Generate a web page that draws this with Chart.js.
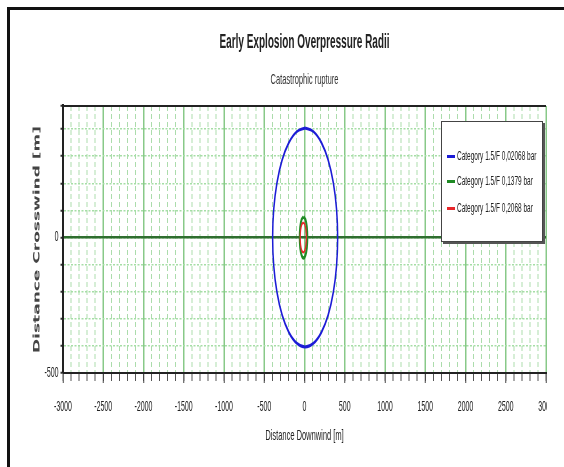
<!DOCTYPE html>
<html>
<head>
<meta charset="utf-8">
<script src="https://cdn.jsdelivr.net/npm/chart.js@4"></script>
<style>
  body { margin: 0; background: #fff; overflow: hidden; }
  #wrap {
    position: absolute; left: 0; top: 0;
    width: 1128px; height: 467px;
    transform: scaleX(0.5); transform-origin: 0 0;
  }
  #frame {
    position: absolute; left: 14px; top: 7px;
    width: 1114px; height: 460px;
    border-left: 6px solid #111; border-top: 3px solid #111;
  }
  #chart { position: absolute; left: 0; top: 0; }
  #legend {
    position: absolute; left: 882px; top: 121px;
    width: 204px; height: 121px; box-sizing: border-box;
    background: #fff;
    border-top: 1px solid #444; border-bottom: 1px solid #444;
    border-left: 2px solid #444; border-right: 2px solid #444;
    box-shadow: 4px 2px 0 #555;
    font-family: 'Liberation Sans', sans-serif;
    font-size: 13px; color: #222;
  }
  .item { position: absolute; left: 10px; height: 18px; line-height: 18px; white-space: nowrap; }
  .swatch { display: inline-block; width: 16px; height: 3px; vertical-align: middle; margin-right: 4px; }
  #cut { position: absolute; left: 1094px; top: 385px; width: 34px; height: 50px; background: #fff; }
</style>
</head>
<body>
<div id="wrap">
  <div id="frame"></div>
  <canvas id="chart" width="1128" height="467"></canvas>
  <div id="legend"></div>
  <div id="cut"></div>
</div>
<script>
'use strict';

const seriesNames = [
  'Category 1.5/F 0,02068 bar',
  'Category 1.5/F 0,1379 bar',
  'Category 1.5/F 0,2068 bar',
];
const seriesColors = ['#1c1cd6', '#1f8a24', '#e8262a'];

// contour outlines, starting at the top, going clockwise
const blueDownwind = [8, 113, 210, 294, 358, 398, 412, 398, 358, 294, 210, 113, 8,
  -97, -194, -278, -342, -382, -396, -382, -342, -278, -194, -97, 8];
const blueCrosswind = [404, 390, 350, 286, 202, 105, 0, -105, -202, -286, -350, -390, -404,
  -390, -350, -286, -202, -105, 0, 105, 202, 286, 350, 390, 404];

const greenDownwind = [-12, 12, 30, 36, 30, 12, -12, -36, -54, -60, -54, -36, -12];
const greenCrosswind = [76, 66, 38, 0, -38, -66, -76, -66, -38, 0, 38, 66, 76];

const redDownwind = [-15, 4, 18, 23, 18, 4, -15, -34, -48, -53, -48, -34, -15];
const redCrosswind = [55, 48, 28, 0, -28, -48, -55, -48, -28, 0, 28, 48, 55];

// axis ranges and labelled ticks
const xMin = -3000;
const xMax = 3000;
const yMin = -500;
const yMax = 485;
const yLabelled = [0, -500];

const tickFont = { family: "'Liberation Sans', sans-serif", size: 14 };

function toPoints(xs, ys) {
  let pts = [];
  for (let i = 0; i < xs.length; i++) {
    pts.push({ x: xs[i], y: ys[i] });
  }
  return pts;
}

function makeDataset(i, xs, ys, width) {
  return {
    label: seriesNames[i],
    data: toPoints(xs, ys),
    showLine: true,
    borderColor: seriesColors[i],
    borderWidth: width,
    pointRadius: 0,
    tension: 0.4,
    fill: false,
    order: 3 - i,
  };
}

// top edge of the plot box
const topEdge = {
  id: 'topEdge',
  afterDraw(chart) {
    const { ctx, chartArea } = chart;
    ctx.save();
    ctx.strokeStyle = '#222';
    ctx.lineWidth = 2;
    ctx.beginPath();
    ctx.moveTo(chartArea.left, chartArea.top);
    ctx.lineTo(chartArea.right, chartArea.top);
    ctx.stroke();
    ctx.restore();
  }
};

function renderChart() {
  let ctx = document.getElementById('chart').getContext('2d');
  return new Chart(ctx, {
    type: 'scatter',
    data: {
      datasets: [
        makeDataset(0, blueDownwind, blueCrosswind, 3),
        makeDataset(1, greenDownwind, greenCrosswind, 3.6),
        makeDataset(2, redDownwind, redCrosswind, 2.4),
      ],
    },
    plugins: [topEdge],
    options: {
      responsive: false,
      animation: false,
      layout: { padding: { left: 0, right: 36, top: 0, bottom: 0 } },
      plugins: {
        legend: { display: false },
        tooltip: { enabled: false },
        title: {
          display: true,
          fullSize: false,
          text: 'Early Explosion Overpressure Radii',
          color: '#222',
          font: { family: "'Liberation Sans', sans-serif", size: 20, weight: 'bold' },
          padding: { top: 30, bottom: 0 },
        },
        subtitle: {
          display: true,
          fullSize: false,
          text: 'Catastrophic rupture',
          color: '#333',
          font: { family: "'Liberation Sans', sans-serif", size: 15 },
          padding: { top: 17, bottom: 17 },
        },
      },
      scales: {
        // minor downwind grid every 100 m
        x: {
          type: 'linear',
          position: 'bottom',
          weight: 0,
          min: xMin,
          max: xMax,
          ticks: { display: false, stepSize: 100 },
          grid: {
            color: (c) => (c.tick && c.tick.value % 500 === 0) ? 'rgba(0,0,0,0)' : '#acdcac',
            lineWidth: 2,
            tickColor: '#555',
            tickLength: 8,
            tickWidth: 2,
          },
          border: { display: false, dash: [5, 3] },
          afterFit(scale) { scale.height = 0; },
        },
        // major downwind grid every 500 m, with labels
        x2: {
          type: 'linear',
          position: 'bottom',
          weight: 1,
          min: xMin,
          max: xMax,
          ticks: {
            stepSize: 500,
            font: tickFont,
            color: '#222',
            padding: 16,
            maxRotation: 0,
            callback: (v) => String(v),
          },
          grid: {
            color: '#88c988',
            lineWidth: 3,
            tickColor: '#444',
            tickLength: 10,
            tickWidth: 2,
          },
          border: { display: true, color: '#222', width: 2 },
          title: {
            display: true,
            text: 'Distance Downwind [m]',
            color: '#222',
            font: { family: "'Liberation Sans', sans-serif", size: 15 },
            padding: { top: 22, bottom: 22 },
          },
          afterFit(scale) { scale.height = 94; },
        },
        y: {
          type: 'linear',
          position: 'left',
          weight: 0,
          min: yMin,
          max: yMax,
          ticks: {
            stepSize: 100,
            font: tickFont,
            color: '#222',
            padding: 4,
            callback: (v) => yLabelled.includes(v) ? String(v) : '',
          },
          grid: {
            color: '#a6dea6',
            lineWidth: 1.5,
            tickColor: '#333',
            tickLength: 5,
            tickWidth: 2,
          },
          border: { display: true, color: '#222', width: 4, dash: [4, 3] },
          title: {
            display: true,
            text: 'Distance Crosswind [m]',
            color: '#444',
            font: { family: "'DejaVu Sans', sans-serif", size: 17, weight: 'bold' },
            padding: 64,
          },
          afterFit(scale) { scale.width = 126; },
        },
        // dark line along zero crosswind
        y0: {
          type: 'linear',
          position: 'left',
          weight: 1,
          min: yMin,
          max: yMax,
          afterBuildTicks(scale) { scale.ticks = [{ value: 0 }]; },
          ticks: { display: false },
          grid: { color: '#2f6e2f', lineWidth: 2.5, drawTicks: false },
          border: { display: false },
          afterFit(scale) { scale.width = 0; },
        },
      },
    },
  });
}

// legend box drawn from the dataset labels
function renderLegend(chart) {
  let legendEl = document.getElementById('legend');
  let rowTops = [25, 50, 77];
  chart.data.datasets.forEach(function (ds, i) {
    let row = document.createElement('div');
    row.className = 'item';
    row.style.top = rowTops[i] + 'px';
    let sw = document.createElement('span');
    sw.className = 'swatch';
    sw.style.background = ds.borderColor;
    row.appendChild(sw);
    row.appendChild(document.createTextNode(ds.label));
    legendEl.appendChild(row);
  });
}

let chart = renderChart();
renderLegend(chart);
</script>
</body>
</html>
